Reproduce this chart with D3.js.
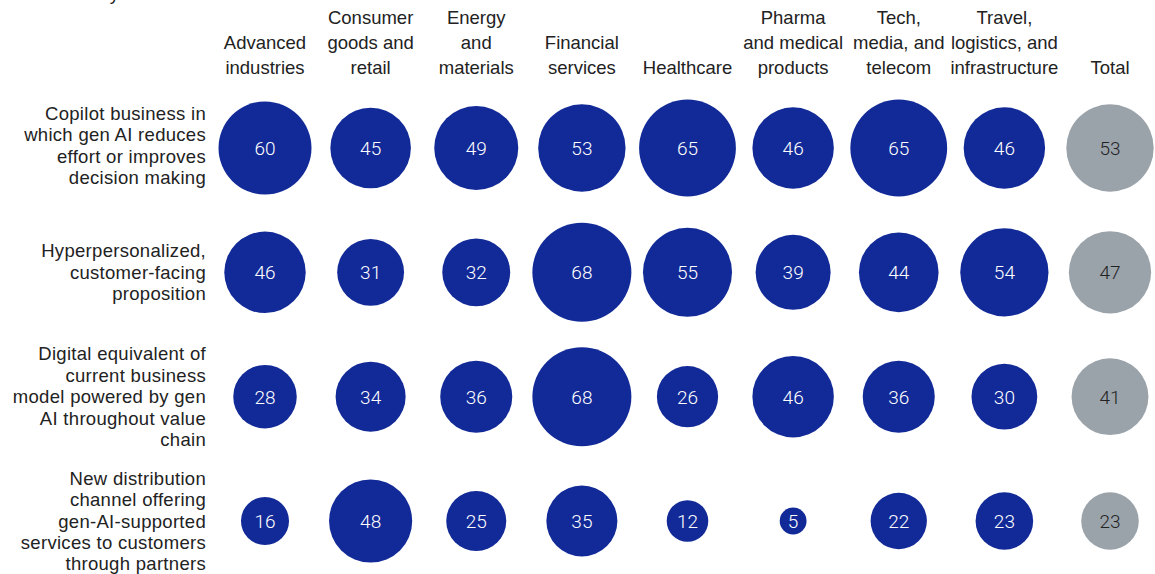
<!DOCTYPE html>
<html>
<head>
<meta charset="utf-8">
<script src="https://cdn.jsdelivr.net/npm/d3@7"></script>
<style>
  html, body { margin: 0; padding: 0; background: #fff; }
  svg { display: block; }
  text { font-family: "Liberation Sans", Arial, sans-serif; }
  .num { font-family: Roboto, "Liberation Sans", Arial, sans-serif; font-weight: 300; }
</style>
</head>
<body>
<svg id="chart" width="1155" height="574"></svg>
<script>
// ---- Data ----
const industries = [
  "Advanced industries", "Consumer goods and retail", "Energy and materials",
  "Financial services", "Healthcare", "Pharma and medical products",
  "Tech, media, and telecom", "Travel, logistics, and infrastructure", "Total"
];
const industryLabelLines = [
  ["Advanced", "industries"],
  ["Consumer", "goods and", "retail"],
  ["Energy", "and", "materials"],
  ["Financial", "services"],
  ["Healthcare"],
  ["Pharma", "and medical", "products"],
  ["Tech,", "media, and", "telecom"],
  ["Travel,", "logistics, and", "infrastructure"],
  ["Total"]
];
const models = ["Copilot", "Hyperpersonalized", "Digital equivalent", "New distribution channel"];
const modelLabelLines = [
  ["Copilot business in", "which gen AI reduces", "effort or improves", "decision making"],
  ["Hyperpersonalized,", "customer-facing", "proposition"],
  ["Digital equivalent of", "current business", "model powered by gen", "AI throughout value", "chain"],
  ["New distribution", "channel offering", "gen-AI-supported", "services to customers", "through partners"]
];
const copilotValues        = [60, 45, 49, 53, 65, 46, 65, 46, 53];
const hyperpersonalValues  = [46, 31, 32, 68, 55, 39, 44, 54, 47];
const digitalEquivValues   = [28, 34, 36, 68, 26, 46, 36, 30, 41];
const newChannelValues     = [16, 48, 25, 35, 12, 5, 22, 23, 23];
const titleFragment = "Gen AI business models by";

// ---- Build cells ----
const seriesValues = [copilotValues, hyperpersonalValues, digitalEquivValues, newChannelValues];
const cells = [];
models.forEach((m, ri) => {
  industries.forEach((ind, ci) => {
    cells.push({ model: m, industry: ind, value: seriesValues[ri][ci] });
  });
});

// ---- Layout ----
const svg = d3.select("#chart");
const x = d3.scalePoint().domain(industries).range([265, 1110]);
const y = d3.scalePoint().domain(models).range([148, 521]);
const r = d3.scaleSqrt().domain([0, 68]).range([0, 49.5]);

const BLUE = "#122a97";
const GRAY = "#9ba3aa";
const TEXT = "#222222";
const FS = 18.5, LS = 0.3;

// cut-off title line at the top
svg.append("text")
  .attr("x", 119).attr("y", 0)
  .attr("text-anchor", "end")
  .attr("font-size", FS).attr("fill", TEXT)
  .text(titleFragment);

// column headers (bottom aligned)
const headerBaseline = 74, headerLH = 25;
industries.forEach((ind, i) => {
  const lines = industryLabelLines[i];
  const t = svg.append("text")
    .attr("text-anchor", "middle")
    .attr("font-size", FS).attr("letter-spacing", 0).attr("fill", TEXT);
  lines.forEach((ln, j) => {
    t.append("tspan")
      .attr("x", x(ind))
      .attr("y", headerBaseline - (lines.length - 1 - j) * headerLH)
      .text(ln);
  });
});

// row labels (right aligned, vertically centred)
const rowLH = 21.4;
models.forEach((m, i) => {
  const lines = modelLabelLines[i];
  const t = svg.append("text")
    .attr("text-anchor", "end")
    .attr("font-size", FS).attr("letter-spacing", LS).attr("fill", TEXT);
  lines.forEach((ln, j) => {
    t.append("tspan")
      .attr("x", 206)
      .attr("y", y(m) + (j - (lines.length - 1) / 2) * rowLH + 6.5 - (i === 0 ? 2.5 : 0))
      .text(ln);
  });
});

// bubbles
const g = svg.append("g");
const cell = g.selectAll("g.cell").data(cells).join("g")
  .attr("class", "cell")
  .attr("transform", d => `translate(${x(d.industry)},${y(d.model)})`);

cell.append("circle")
  .attr("r", d => r(d.value))
  .attr("fill", d => d.industry === "Total" ? GRAY : BLUE);

cell.append("text")
  .attr("class", "num")
  .attr("text-anchor", "middle")
  .attr("dy", "0.36em")
  .attr("font-size", 19)
  .attr("fill", d => d.industry === "Total" ? TEXT : "#ffffff")
  .text(d => d.value);
</script>
</body>
</html>
